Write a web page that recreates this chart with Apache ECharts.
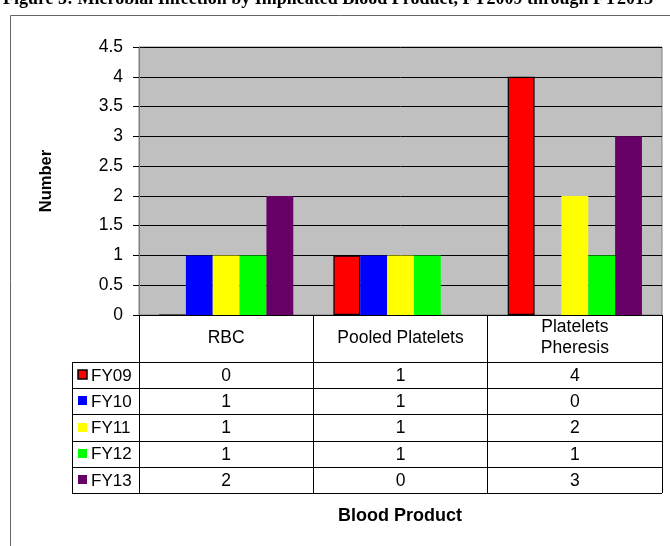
<!DOCTYPE html>
<html><head><meta charset="utf-8">
<script src="https://cdn.jsdelivr.net/npm/echarts@6/dist/echarts.min.js"></script>
<style>html,body{margin:0;padding:0;background:#fff}#c{width:670px;height:546px}</style>
</head><body><div id="c"></div>
<script>
const title = 'Figure 5: Microbial Infection by Implicated Blood Product, FY2009 through FY2013';
const categories = ['RBC', 'Pooled Platelets', 'Platelets\nPheresis'];
const seriesNames = ['FY09', 'FY10', 'FY11', 'FY12', 'FY13'];
const fy09 = [0, 1, 4];
const fy10 = [1, 1, 0];
const fy11 = [1, 1, 2];
const fy12 = [1, 1, 1];
const fy13 = [2, 0, 3];
const yTicks = [0, 0.5, 1, 1.5, 2, 2.5, 3, 3.5, 4, 4.5];
const seriesValues = [fy09, fy10, fy11, fy12, fy13];
const colors = ['#FF0000', '#0000FF', '#FFFF00', '#00FF00', '#660066'];

const FONT = '"Liberation Sans", Arial, sans-serif';
const FS = 17.5;
const chart = echarts.init(document.getElementById('c'), null, {renderer: 'canvas'});

const gridLeft = 139, gridRight = 8, gridTop = 47, gridBottom = 231;
const headerBottom = 362, rowH = 26.2, tableLeft = 72;

const option = {
  animation: false,
  backgroundColor: '#fff',
  grid: {left: gridLeft, right: gridRight, top: gridTop, bottom: gridBottom, show: true,
         backgroundColor: '#C0C0C0', borderColor: '#808080', borderWidth: 1},
  xAxis: {
    type: 'category', data: categories,
    axisLine: {show: true, lineStyle: {color: '#000', width: 1}},
    axisTick: {show: true, length: 178, lineStyle: {color: '#000', width: 1}},
    axisLabel: {color: '#000', fontSize: FS, fontFamily: FONT, margin: 23, verticalAlign: 'middle', lineHeight: 21},
    splitLine: {show: false}
  },
  yAxis: {
    type: 'value', min: yTicks[0], max: yTicks[yTicks.length - 1], interval: 0.5,
    name: 'Number', nameLocation: 'middle', nameGap: 84, nameRotate: 90,
    nameTextStyle: {color: '#000', fontSize: 16.5, fontWeight: 'bold', fontFamily: FONT},
    axisLine: {show: true, lineStyle: {color: '#808080'}},
    axisTick: {show: true, length: 6, lineStyle: {color: '#000'}},
    axisLabel: {color: '#000', fontSize: FS, fontFamily: FONT, margin: 16},
    splitLine: {show: true, lineStyle: {color: '#000', width: 1}}
  },
  series: seriesNames.map((n, i) => ({
    name: n, type: 'bar', data: seriesValues[i],
    barGap: '0%', barCategoryGap: '23%',
    itemStyle: {color: colors[i], borderColor: i === 0 ? '#000' : colors[i], borderWidth: i === 0 ? 1.2 : 0}
  }))
};
chart.setOption(option);

const centers = categories.map(c => chart.convertToPixel({xAxisIndex: 0}, c));
const g = [];
g.push({type: 'line', shape: {x1: 10.5, y1: 15.5, x2: 670, y2: 15.5}, style: {stroke: '#666', lineWidth: 1}});
g.push({type: 'line', shape: {x1: 10.5, y1: 15.5, x2: 10.5, y2: 546}, style: {stroke: '#666', lineWidth: 1}});
g.push({type: 'text', x: 328, y: 8, style: {text: title, font: 'bold 18px "Liberation Serif", "Times New Roman", serif', fill: '#000', align: 'center', verticalAlign: 'bottom'}});
const rightX = 670 - gridRight;
for (let r = 0; r <= seriesNames.length; r++) {
  const y = Math.round(headerBottom + r * rowH) + 0.5;
  g.push({type: 'line', shape: {x1: tableLeft, y1: y, x2: rightX, y2: y}, style: {stroke: '#000', lineWidth: 1}});
}
g.push({type: 'line', shape: {x1: tableLeft + 0.5, y1: headerBottom, x2: tableLeft + 0.5, y2: Math.round(headerBottom + seriesNames.length * rowH) + 0.5}, style: {stroke: '#000', lineWidth: 1}});
seriesNames.forEach((n, r) => {
  const yc = headerBottom + r * rowH + rowH / 2;
  g.push({type: 'rect', shape: {x: 78, y: Math.round(yc - 5), width: 9, height: 9},
          style: {fill: colors[r], stroke: r === 0 ? '#000' : colors[r], lineWidth: r === 0 ? 1.5 : 0}});
  g.push({type: 'text', x: 91, y: yc + 1, style: {text: n, font: '17px ' + FONT, fill: '#000', align: 'left', verticalAlign: 'middle'}});
  seriesValues[r].forEach((v, c) => {
    g.push({type: 'text', x: centers[c], y: yc + 1, style: {text: String(v), font: FS + 'px ' + FONT, fill: '#000', align: 'center', verticalAlign: 'middle'}});
  });
});
g.push({type: 'text', x: 400, y: 516, style: {text: 'Blood Product', font: 'bold 18px ' + FONT, fill: '#000', align: 'center', verticalAlign: 'middle'}});
chart.setOption({graphic: g});
</script></body></html>
